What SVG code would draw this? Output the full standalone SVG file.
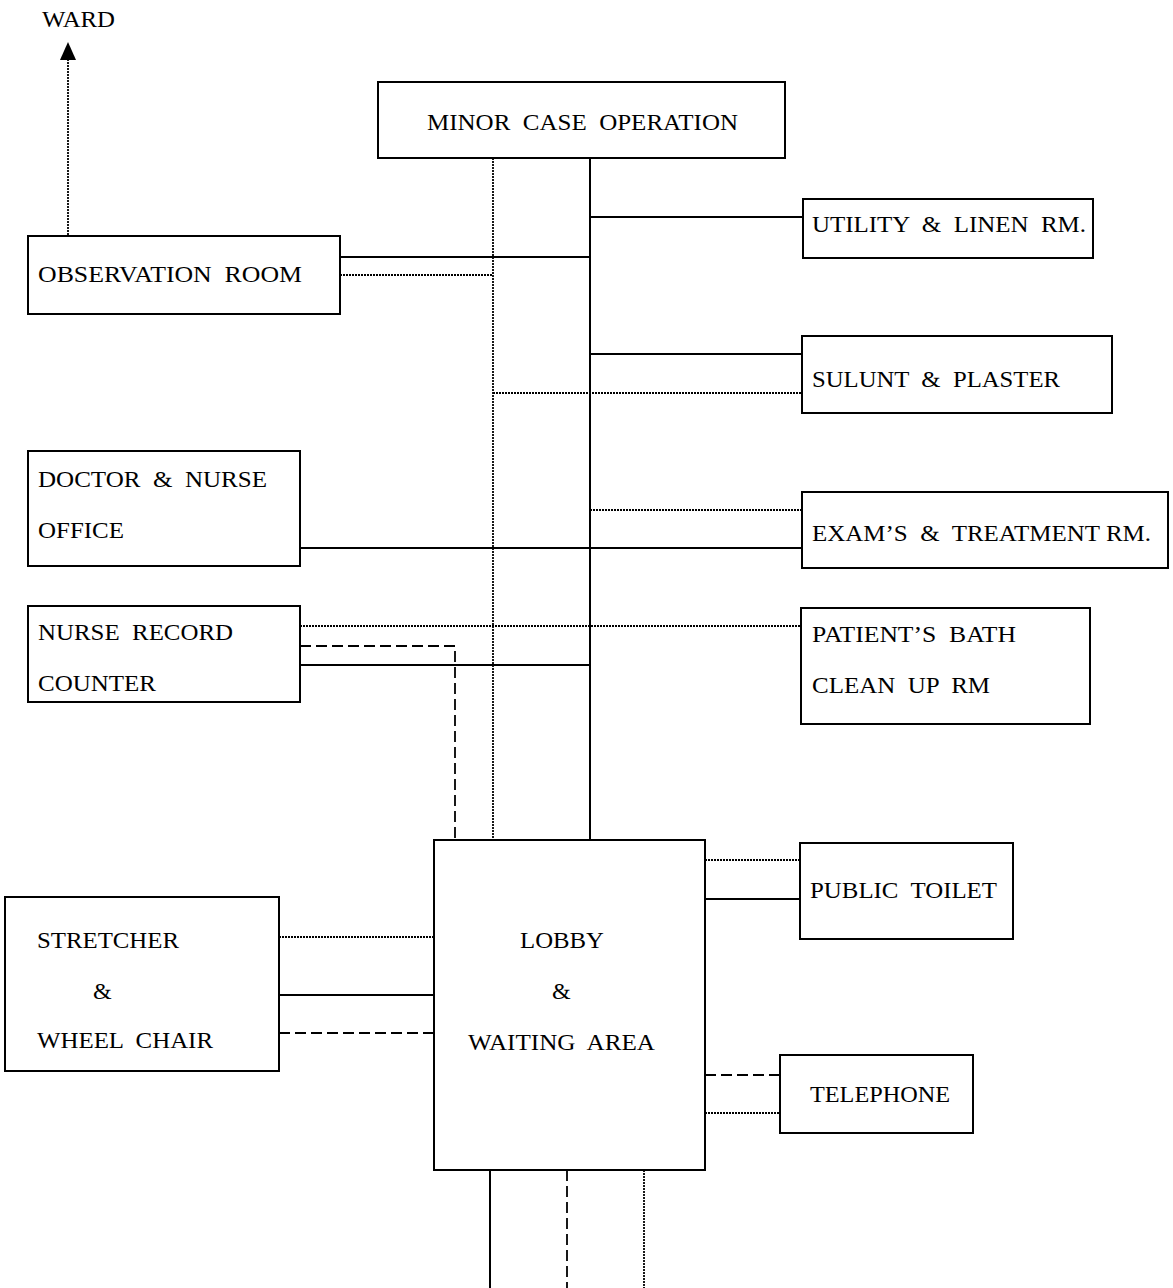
<svg xmlns="http://www.w3.org/2000/svg" width="1173" height="1288" viewBox="0 0 1173 1288">
  <style>
    .box { fill: #fff; stroke: #000; stroke-width: 2; }
    .lbl { font-family: "Liberation Serif", "Times New Roman", serif; font-size: 24px; fill: #000; white-space: pre; }
    .solid { stroke: #000; stroke-width: 2; fill: none; }
    .dot { stroke: #000; stroke-width: 1.8; stroke-dasharray: 2 1; fill: none; }
    .dash { stroke: #000; stroke-width: 1.8; stroke-dasharray: 11 5; fill: none; }
  </style>
  <rect width="1173" height="1288" fill="#fff"/>

  <!-- connectors -->
  <g id="connectors">
    <!-- main spines -->
    <line class="solid" x1="590" y1="158" x2="590" y2="840"/>
    <line class="dot" x1="493" y1="158" x2="493" y2="840"/>
    <!-- to ward -->
    <line class="dot" x1="68" y1="235" x2="68" y2="60"/>
    <path d="M60,60 L68,42 L76,60 Z" fill="#000"/>
    <!-- observation room -->
    <line class="solid" x1="340" y1="257" x2="590" y2="257"/>
    <line class="dot" x1="340" y1="275" x2="493" y2="275"/>
    <!-- utility & linen -->
    <line class="solid" x1="590" y1="217" x2="803" y2="217"/>
    <!-- splint & plaster -->
    <line class="solid" x1="590" y1="354" x2="802" y2="354"/>
    <line class="dot" x1="493" y1="393" x2="802" y2="393"/>
    <!-- exam & treatment -->
    <line class="dot" x1="590" y1="510" x2="802" y2="510"/>
    <line class="solid" x1="300" y1="548" x2="802" y2="548"/>
    <!-- nurse record counter -->
    <line class="dot" x1="300" y1="626" x2="801" y2="626"/>
    <path class="dash" d="M300,646 H455 V840"/>
    <line class="solid" x1="300" y1="665" x2="590" y2="665"/>
    <!-- public toilet -->
    <line class="dot" x1="705" y1="860" x2="800" y2="860"/>
    <line class="solid" x1="705" y1="899" x2="800" y2="899"/>
    <!-- telephone -->
    <line class="dash" x1="705" y1="1075" x2="780" y2="1075"/>
    <line class="dot" x1="705" y1="1113" x2="780" y2="1113"/>
    <!-- stretcher & wheel chair -->
    <line class="dot" x1="279" y1="937" x2="434" y2="937"/>
    <line class="solid" x1="279" y1="995" x2="434" y2="995"/>
    <line class="dash" x1="279" y1="1033" x2="434" y2="1033"/>
    <!-- exits below lobby -->
    <line class="solid" x1="490" y1="1170" x2="490" y2="1288"/>
    <line class="dash" x1="567" y1="1170" x2="567" y2="1288"/>
    <line class="dot" x1="644" y1="1170" x2="644" y2="1288"/>
  </g>

  <g id="ward">
    <text class="lbl" x="42" y="27" font-size="21" textLength="73" lengthAdjust="spacingAndGlyphs">WARD</text>
  </g>

  <g id="minor-case-operation">
    <rect class="box" x="378" y="82" width="407" height="76"/>
    <text class="lbl" x="427" y="130" textLength="311" lengthAdjust="spacingAndGlyphs">MINOR  CASE  OPERATION</text>
  </g>

  <g id="observation-room">
    <rect class="box" x="28" y="236" width="312" height="78"/>
    <text class="lbl" x="38" y="282" textLength="264" lengthAdjust="spacingAndGlyphs">OBSERVATION  ROOM</text>
  </g>

  <g id="utility-linen">
    <rect class="box" x="803" y="199" width="290" height="59"/>
    <text class="lbl" x="812" y="232" textLength="274" lengthAdjust="spacingAndGlyphs">UTILITY  &amp;  LINEN  RM.</text>
  </g>

  <g id="splint-plaster">
    <rect class="box" x="802" y="336" width="310" height="77"/>
    <text class="lbl" x="812" y="387" textLength="248" lengthAdjust="spacingAndGlyphs">SULUNT  &amp;  PLASTER</text>
  </g>

  <g id="doctor-nurse-office">
    <rect class="box" x="28" y="451" width="272" height="115"/>
    <text class="lbl" x="38" y="487" textLength="229" lengthAdjust="spacingAndGlyphs">DOCTOR  &amp;  NURSE</text>
    <text class="lbl" x="38" y="538" textLength="86" lengthAdjust="spacingAndGlyphs">OFFICE</text>
  </g>

  <g id="exam-treatment">
    <rect class="box" x="802" y="492" width="366" height="76"/>
    <text class="lbl" x="812" y="541" textLength="339" lengthAdjust="spacingAndGlyphs">EXAM’S  &amp;  TREATMENT RM.</text>
  </g>

  <g id="nurse-record-counter">
    <rect class="box" x="28" y="606" width="272" height="96"/>
    <text class="lbl" x="38" y="640" textLength="195" lengthAdjust="spacingAndGlyphs">NURSE  RECORD</text>
    <text class="lbl" x="38" y="691" textLength="118" lengthAdjust="spacingAndGlyphs">COUNTER</text>
  </g>

  <g id="patient-bath">
    <rect class="box" x="801" y="608" width="289" height="116"/>
    <text class="lbl" x="812" y="642" textLength="204" lengthAdjust="spacingAndGlyphs">PATIENT’S  BATH</text>
    <text class="lbl" x="812" y="693" textLength="178" lengthAdjust="spacingAndGlyphs">CLEAN  UP  RM</text>
  </g>

  <g id="lobby">
    <rect class="box" x="434" y="840" width="271" height="330"/>
    <text class="lbl" x="520" y="948" textLength="84" lengthAdjust="spacingAndGlyphs">LOBBY</text>
    <text class="lbl" x="552" y="999">&amp;</text>
    <text class="lbl" x="468" y="1050" textLength="187" lengthAdjust="spacingAndGlyphs">WAITING  AREA</text>
  </g>

  <g id="public-toilet">
    <rect class="box" x="800" y="843" width="213" height="96"/>
    <text class="lbl" x="810" y="898" textLength="187" lengthAdjust="spacingAndGlyphs">PUBLIC  TOILET</text>
  </g>

  <g id="telephone">
    <rect class="box" x="780" y="1055" width="193" height="78"/>
    <text class="lbl" x="810" y="1102" textLength="140" lengthAdjust="spacingAndGlyphs">TELEPHONE</text>
  </g>

  <g id="stretcher-wheel-chair">
    <rect class="box" x="5" y="897" width="274" height="174"/>
    <text class="lbl" x="37" y="948" textLength="142" lengthAdjust="spacingAndGlyphs">STRETCHER</text>
    <text class="lbl" x="93" y="999">&amp;</text>
    <text class="lbl" x="37" y="1048" textLength="176" lengthAdjust="spacingAndGlyphs">WHEEL  CHAIR</text>
  </g>
</svg>
